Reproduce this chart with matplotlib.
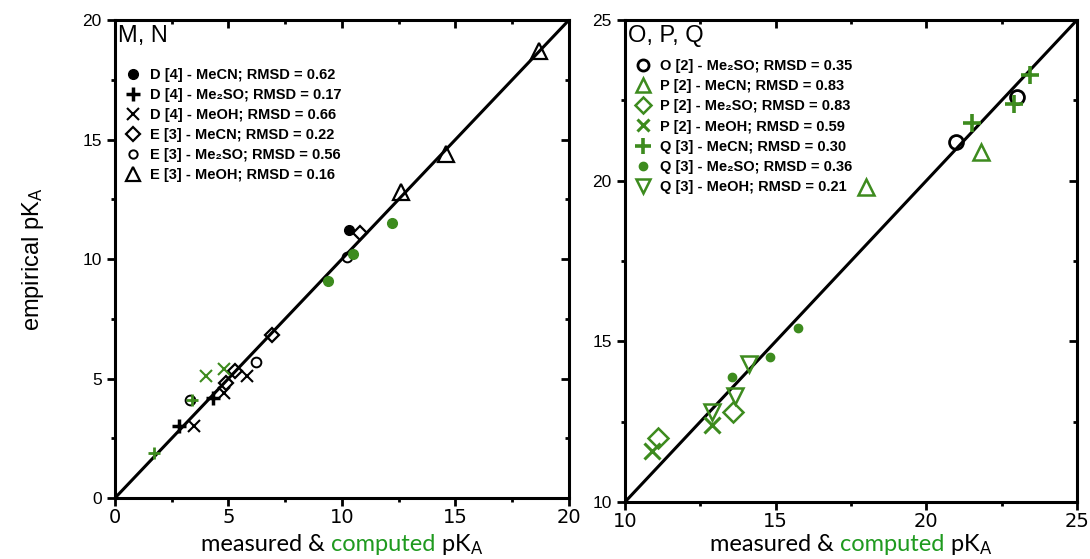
import matplotlib
matplotlib.use("Agg")
import matplotlib.pyplot as plt
from matplotlib.lines import Line2D
from matplotlib.offsetbox import TextArea, HPacker, AnnotationBbox

plt.rcParams['font.family'] = ['Liberation Sans', 'DejaVu Sans']
plt.rcParams['mathtext.fontset'] = 'custom'
plt.rcParams['mathtext.rm'] = 'Lato'
plt.rcParams['mathtext.it'] = 'Lato'

GREEN = '#3d8b1e'
LABEL_GREEN = '#1f9a1f'

# ---- panel M, N (measured -> black, computed -> green) ----
d_mecn_x, d_mecn_y = [10.3], [11.2]
d_dmso_x, d_dmso_y = [2.8, 4.3], [3.0, 4.2]
d_meoh_x, d_meoh_y = [3.5, 4.8, 5.8], [3.0, 4.4, 5.1]
e_mecn_x, e_mecn_y = [4.9, 5.3, 6.9, 10.8], [4.8, 5.3, 6.8, 11.1]
e_dmso_x, e_dmso_y = [3.3, 6.2, 10.2], [4.1, 5.7, 10.1]
e_meoh_x, e_meoh_y = [12.6, 14.6, 18.7], [12.8, 14.4, 18.7]
comp_dot_x, comp_dot_y = [9.4, 10.5, 12.2], [9.1, 10.2, 11.5]
comp_x_x, comp_x_y = [4.0, 4.8], [5.1, 5.4]
comp_plus_x, comp_plus_y = [1.7, 3.4], [1.9, 4.1]

labels_mn = ["D [4] - MeCN; RMSD = 0.62", "D [4] - Me₂SO; RMSD = 0.17",
             "D [4] - MeOH; RMSD = 0.66", "E [3] - MeCN; RMSD = 0.22",
             "E [3] - Me₂SO; RMSD = 0.56", "E [3] - MeOH; RMSD = 0.16"]

# ---- panel O, P, Q ----
o_dmso_x, o_dmso_y = [21.0, 23.0], [21.2, 22.6]
p_mecn_x, p_mecn_y = [18.0, 21.8], [19.8, 20.9]
p_dmso_x, p_dmso_y = [11.1, 13.6], [12.0, 12.8]
p_meoh_x, p_meoh_y = [10.9, 12.9], [11.6, 12.4]
q_mecn_x, q_mecn_y = [21.5, 22.9, 23.45], [21.8, 22.4, 23.3]
q_dmso_x, q_dmso_y = [13.55, 14.8, 15.75], [13.9, 14.5, 15.4]
q_meoh_x, q_meoh_y = [12.9, 13.65, 14.1], [12.8, 13.3, 14.3]

labels_opq = ["O [2] - Me₂SO; RMSD = 0.35", "P [2] - MeCN; RMSD = 0.83",
              "P [2] - Me₂SO; RMSD = 0.83", "P [2] - MeOH; RMSD = 0.59",
              "Q [3] - MeCN; RMSD = 0.30", "Q [3] - Me₂SO; RMSD = 0.36",
              "Q [3] - MeOH; RMSD = 0.21"]

fig = plt.figure(figsize=(10.9, 5.59), dpi=100)
ax1 = fig.add_axes([0.1055, 0.1091, 0.4165, 0.8551])
ax2 = fig.add_axes([0.5734, 0.1020, 0.4147, 0.8622])


def open_m(ax, x, y, marker, color, ms, mew=1.6):
    ax.plot(x, y, ls='none', marker=marker, mfc='none', mec=color, ms=ms, mew=mew)


def style_axes(ax, lo, hi):
    ax.set_xlim(lo, hi)
    ax.set_ylim(lo, hi)
    ax.plot([lo, hi], [lo, hi], color='black', lw=2.2, zorder=1)
    for s in ax.spines.values():
        s.set_linewidth(2.2)
    major = list(range(lo, hi + 1, 5))
    minor = [v + 2.5 for v in range(lo, hi, 5)]
    ax.set_xticks(major)
    ax.set_yticks(major)
    ax.set_xticks(minor, minor=True)
    ax.set_yticks(minor, minor=True)
    ax.tick_params(which='both', width=2, labelsize=12.5)
    ax.tick_params(which='major', length=6)
    ax.tick_params(which='minor', length=3)
    ax.tick_params(axis='x', pad=1.5)
    for t in ax.get_xticklabels():
        t.set_family('Liberation Sans Narrow')
        t.set_fontsize(14)
    # inward ticks on top and right
    top = ax.secondary_xaxis('top')
    right = ax.secondary_yaxis('right')
    for sec, axis in ((top, 'x'), (right, 'y')):
        sec.set_ticks(major)
        sec.set_ticks(minor, minor=True)
        sec.tick_params(which='both', direction='in', width=2)
        sec.tick_params(which='major', length=6)
        sec.tick_params(which='minor', length=3)
        if axis == 'x':
            sec.set_xticklabels([])
        else:
            sec.set_yticklabels([])
    # x label with green "computed"
    parts = [TextArea("measured & ", textprops=dict(color='black', size=17, family='Lato')),
             TextArea("computed", textprops=dict(color=LABEL_GREEN, size=17, family='Lato')),
             TextArea(r" pK$_\mathrm{A}$", textprops=dict(color='black', size=17, family='Lato'))]
    box = HPacker(children=parts, align='baseline', pad=0, sep=0)
    pos = ax.get_position()
    ab = AnnotationBbox(box, (pos.x0 + pos.width / 2, 0.026), xycoords='figure fraction',
                        box_alignment=(0.5, 0.5), frameon=False)
    fig.add_artist(ab)


# left panel
style_axes(ax1, 0, 20)
ax1.plot(d_mecn_x, d_mecn_y, ls='none', marker='o', color='black', ms=7)
ax1.plot(d_dmso_x, d_dmso_y, ls='none', marker='+', color='black', ms=10, mew=2.5)
ax1.plot(d_meoh_x, d_meoh_y, ls='none', marker='x', color='black', ms=8, mew=1.5)
open_m(ax1, e_mecn_x, e_mecn_y, 'D', 'black', 7.5)
open_m(ax1, e_dmso_x, e_dmso_y, 'o', 'black', 7, 1.4)
open_m(ax1, e_meoh_x, e_meoh_y, '^', 'black', 11, 1.6)
ax1.plot(comp_dot_x, comp_dot_y, ls='none', marker='o', color=GREEN, ms=7)
ax1.plot(comp_x_x, comp_x_y, ls='none', marker='x', color=GREEN, ms=8, mew=1.5)
ax1.plot(comp_plus_x, comp_plus_y, ls='none', marker='+', color=GREEN, ms=9, mew=2)

h1 = [Line2D([], [], ls='none', marker='o', color='black', ms=7),
      Line2D([], [], ls='none', marker='+', color='black', ms=10, mew=2.5),
      Line2D([], [], ls='none', marker='x', color='black', ms=8, mew=1.5),
      Line2D([], [], ls='none', marker='D', mfc='none', mec='black', ms=7.5, mew=1.6),
      Line2D([], [], ls='none', marker='o', mfc='none', mec='black', ms=6, mew=1.4),
      Line2D([], [], ls='none', marker='^', mfc='none', mec='black', ms=10, mew=1.6)]
ax1.text(0.006, 0.99, "M, N", transform=ax1.transAxes, ha='left', va='top', fontsize=17)
ax1.legend(h1, labels_mn, loc='upper left', bbox_to_anchor=(0.0, 0.92), frameon=False,
           prop=dict(weight='bold', size=10.5), labelspacing=0.4, handletextpad=0.6,
           handlelength=1.1, borderaxespad=0.3)
ax1.set_ylabel(r"empirical pK$_\mathrm{A}$", fontsize=17, labelpad=26)

# right panel
style_axes(ax2, 10, 25)
open_m(ax2, o_dmso_x, o_dmso_y, 'o', 'black', 10, 2)
open_m(ax2, p_mecn_x, p_mecn_y, '^', GREEN, 12, 1.8)
open_m(ax2, p_dmso_x, p_dmso_y, 'D', GREEN, 10, 1.8)
ax2.plot(p_meoh_x, p_meoh_y, ls='none', marker='x', color=GREEN, ms=11, mew=2.2)
ax2.plot(q_mecn_x, q_mecn_y, ls='none', marker='+', color=GREEN, ms=13, mew=2.6)
ax2.plot(q_dmso_x, q_dmso_y, ls='none', marker='o', color=GREEN, ms=6)
open_m(ax2, q_meoh_x, q_meoh_y, 'v', GREEN, 12, 1.8)

h2 = [Line2D([], [], ls='none', marker='o', mfc='none', mec='black', ms=8, mew=2),
      Line2D([], [], ls='none', marker='^', mfc='none', mec=GREEN, ms=10, mew=1.8),
      Line2D([], [], ls='none', marker='D', mfc='none', mec=GREEN, ms=8, mew=1.8),
      Line2D([], [], ls='none', marker='x', color=GREEN, ms=9, mew=2.2),
      Line2D([], [], ls='none', marker='+', color=GREEN, ms=11, mew=2.6),
      Line2D([], [], ls='none', marker='o', color=GREEN, ms=6),
      Line2D([], [], ls='none', marker='v', mfc='none', mec=GREEN, ms=10, mew=1.8)]
ax2.text(0.006, 0.99, "O, P, Q", transform=ax2.transAxes, ha='left', va='top', fontsize=17)
ax2.legend(h2, labels_opq, loc='upper left', bbox_to_anchor=(0.0, 0.94), frameon=False,
           prop=dict(weight='bold', size=10.5), labelspacing=0.42, handletextpad=0.6,
           handlelength=1.1, borderaxespad=0.3)

fig.savefig("out.png", dpi=100)
